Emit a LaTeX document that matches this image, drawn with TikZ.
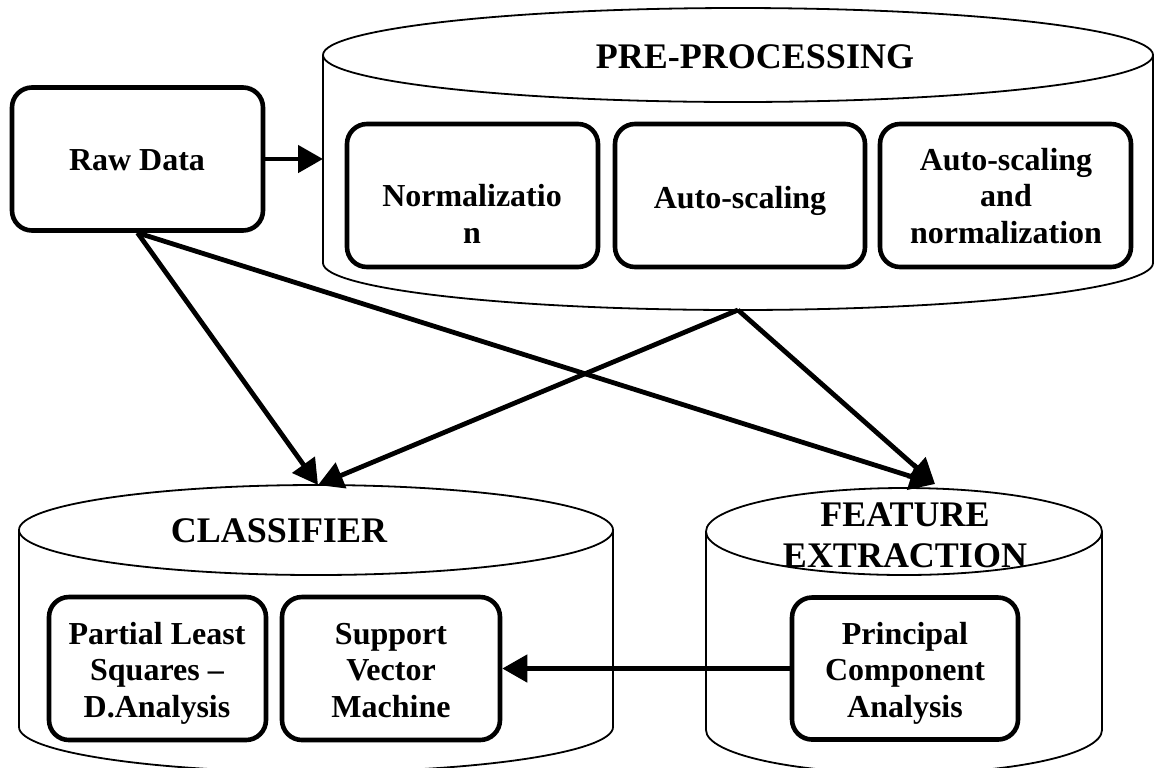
\documentclass[tikz,border=0pt]{standalone}
\usepackage{fontspec}
\setmainfont{Liberation Serif}
\usetikzlibrary{arrows.meta}
\begin{document}
\begin{tikzpicture}[x=0.5pt,y=0.5pt,
  cyl/.style={line width=0.9pt},
  box/.style={draw, line width=2.3pt, rounded corners=10pt, inner sep=0pt, minimum height=71.5pt},
  lbl/.style={font=\fontsize{16}{18.25}\selectfont\bfseries, align=center, anchor=base, inner sep=0pt},
  ttl/.style={font=\fontsize{18}{20.5}\selectfont\bfseries, align=center, anchor=base, inner sep=0pt},
  arr/.style={-{Triangle[length=12.5pt,width=13.5pt]}, line width=2.4pt}]
\useasboundingbox (0,0) rectangle (1155,-767);
\clip (0,0) rectangle (1155,-767);
% cylinders
\draw[cyl] (738,-55) ellipse [x radius=207.5pt, y radius=23.5pt];
\draw[cyl] (323,-55) -- (323,-263) arc[start angle=180, end angle=360, x radius=207.5pt, y radius=23.5pt] -- (1153,-55);
\draw[cyl] (316,-530) ellipse [x radius=148.5pt, y radius=22.5pt];
\draw[cyl] (19,-530) -- (19,-727) arc[start angle=180, end angle=360, x radius=148.5pt, y radius=22.5pt] -- (613,-530);
\draw[cyl] (904,-531.5) ellipse [x radius=99pt, y radius=21.75pt];
\draw[cyl] (706,-531.5) -- (706,-730) arc[start angle=180, end angle=360, x radius=99pt, y radius=21.75pt] -- (1102,-531.5);
\coordinate (ppleft) at (323,-159);
\coordinate (ppbot) at (738,-310);
\coordinate (cltop) at (318,-485);
\coordinate (fetop) at (935,-484);
% boxes
\node[box, minimum width=125.5pt] (raw) at (137.5,-159) {};
\node[box, minimum width=125.5pt] (norm) at (472.5,-195.5) {};
\node[box, minimum width=125pt] (auto) at (740,-195.5) {};
\node[box, minimum width=125.5pt] (autonorm) at (1005.5,-195.5) {};
\node[box, minimum width=108.5pt] (pls) at (157.5,-668.5) {};
\node[box, minimum width=109pt] (svm) at (391,-668.5) {};
\node[box, minimum width=113pt, minimum height=71pt] (pca) at (905,-668.5) {};
% texts (anchor = baseline of last line)
\node[lbl] (rawt) at (137,-170) {Raw Data};
\node[ttl] (ppt) at (755,-68) {PRE-PROCESSING};
\node[lbl] (normt) at (472,-243) {Normalizatio\\n};
\node[lbl] (autot) at (740,-208) {Auto-scaling};
\node[lbl] (ant) at (1006,-243) {Auto-scaling\\and\\normalization};
\node[ttl] (clt) at (279,-542) {CLASSIFIER};
\node[ttl] (fet) at (905,-567) {FEATURE\\EXTRACTION};
\node[lbl] (plst) at (157,-717) {Partial Least\\Squares –\\D.Analysis};
\node[lbl] (svmt) at (391,-717) {Support\\Vector\\Machine};
\node[lbl] (pcat) at (905,-717) {Principal\\Component\\Analysis};
% arrows
\draw[arr] (raw.east) -- (ppleft);
\draw[arr] (raw.south) -- (cltop);
\draw[arr] (raw.south) -- (fetop);
\draw[arr] (ppbot) -- (cltop);
\draw[arr] (ppbot) -- (fetop);
\draw[arr] (pca.west) -- (svm.east);
\end{tikzpicture}
\end{document}
